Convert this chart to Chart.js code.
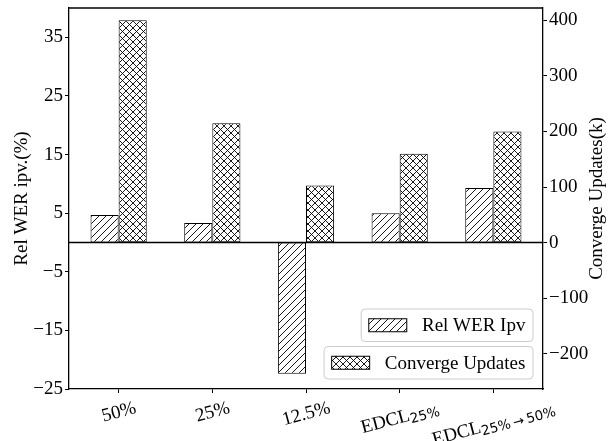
<!DOCTYPE html>
<html>
<head>
<meta charset="utf-8">
<script src="https://cdn.jsdelivr.net/npm/chart.js@4.4.0/dist/chart.umd.min.js"></script>
<style>
  html, body { margin: 0; padding: 0; background: #fff; }
</style>
</head>
<body>
<canvas id="chart" width="612" height="441"></canvas>
<script>
// data
var CATEGORIES = ["50%", "25%", "12.5%", "EDCL25%", "EDCL25%→50%"];
var LABEL_MAIN = ["50%", "25%", "12.5%", "EDCL", "EDCL"];
var LABEL_SUB = ["", "", "", "25%", "25%\u2009→\u200950%"];
var REL_WER_IPV = [4.7, 3.3, -22.4, 5.0, 9.3];
var CONVERGE_UPDATES = [400, 215, 103, 160, 200];
var LEFT_TICKS = [-25, -15, -5, 5, 15, 25, 35];
var RIGHT_TICKS = [-200, -100, 0, 100, 200, 300, 400];

var SERIF = "'Liberation Serif', 'Times New Roman', serif";
var SANS = "'DejaVu Sans', sans-serif";
var FS = 19;
var FS_SUB = 13.5;

var canvas = document.getElementById("chart");
var ctx = canvas.getContext("2d");

function makeHatch(kind) {
  var n = 7;
  var c = document.createElement("canvas");
  c.width = n; c.height = n;
  var g = c.getContext("2d");
  g.fillStyle = "#fff";
  g.fillRect(0, 0, n, n);
  g.strokeStyle = "#000";
  g.lineWidth = 0.9;
  g.beginPath();
  g.moveTo(-1, n + 1); g.lineTo(n + 1, -1);
  g.moveTo(-1, 1); g.lineTo(1, -1);
  g.moveTo(n - 1, n + 1); g.lineTo(n + 1, n - 1);
  if (kind === "x") {
    g.moveTo(-1, -1); g.lineTo(n + 1, n + 1);
    g.moveTo(n - 1, -1); g.lineTo(n + 1, 1);
    g.moveTo(-1, n - 1); g.lineTo(1, n + 1);
  }
  g.stroke();
  return ctx.createPattern(c, "repeat");
}
var hatchSlash = makeHatch("/");
var hatchCross = makeHatch("x");

function minus(v) { return String(v).replace("-", "\u2212"); }

function roundRect(c, x, y, w, h, r) {
  c.beginPath();
  c.moveTo(x + r, y);
  c.arcTo(x + w, y, x + w, y + h, r);
  c.arcTo(x + w, y + h, x, y + h, r);
  c.arcTo(x, y + h, x, y, r);
  c.arcTo(x, y, x + w, y, r);
  c.closePath();
}

var extras = {
  id: "extras",
  afterDatasetsDraw: function(chart) {
    var c = chart.ctx, a = chart.chartArea;
    var y0 = chart.scales.y.getPixelForValue(0);
    c.save();
    c.strokeStyle = "#000";
    c.lineWidth = 1.5;
    c.beginPath();
    c.moveTo(a.left, y0); c.lineTo(a.right, y0);
    c.stroke();
    c.restore();
  },
  afterDraw: function(chart) {
    var c = chart.ctx, a = chart.chartArea;
    c.save();
    // top spine
    c.strokeStyle = "#000";
    c.lineWidth = 1.3;
    c.beginPath();
    c.moveTo(a.left, a.top); c.lineTo(a.right, a.top);
    c.stroke();

    // right axis title, reads bottom to top
    c.fillStyle = "#000";
    c.font = FS + "px " + SERIF;
    c.textAlign = "center";
    c.textBaseline = "middle";
    c.save();
    c.translate(597, (a.top + a.bottom) / 2);
    c.rotate(-Math.PI / 2);
    c.fillText("Converge Updates(k)", 0, 0);
    c.restore();

    // rotated x labels with subscripts
    var th = 15 * Math.PI / 180;
    var top = a.bottom + 7.5;
    var xs = chart.scales.x;
    c.textAlign = "left";
    c.textBaseline = "alphabetic";
    for (var i = 0; i < CATEGORIES.length; i++) {
      c.font = FS + "px " + SERIF;
      var wMain = c.measureText(LABEL_MAIN[i]).width;
      c.font = FS_SUB + "px " + SANS;
      var wSub = LABEL_SUB[i] ? c.measureText(LABEL_SUB[i]).width : 0;
      var W = wMain + wSub, H = FS * 1.1;
      var cx = xs.getPixelForValue(i);
      var cy = top + (W * Math.sin(th) + H * Math.cos(th)) / 2;
      c.save();
      c.translate(cx, cy);
      c.rotate(-th);
      var base = 0.33 * FS;
      c.font = FS + "px " + SERIF;
      c.fillText(LABEL_MAIN[i], -W / 2, base);
      if (wSub) {
        c.font = FS_SUB + "px " + SANS;
        c.fillText(LABEL_SUB[i], -W / 2 + wMain, base + 3);
      }
      c.restore();
    }

    // two legends, one per axis
    var ds = chart.data.datasets;
    var pats = [hatchSlash, hatchCross];
    var right = a.right - 10;
    var bottoms = [a.bottom - 47.5, a.bottom - 10];
    var pad = 7.6, hl = 38, hp = 15.2, bh = 32.5;
    for (var k = 0; k < 2; k++) {
      c.font = FS + "px " + SERIF;
      var tw = c.measureText(ds[k].label).width;
      var bw = pad + hl + hp + tw + pad;
      var bx = right - bw, by = bottoms[k] - bh;
      roundRect(c, bx, by, bw, bh, 4);
      c.fillStyle = "rgba(255,255,255,0.8)";
      c.fill();
      c.strokeStyle = "#cccccc";
      c.lineWidth = 1;
      c.stroke();
      var py = by + bh / 2 - 6.5;
      c.fillStyle = pats[k];
      c.fillRect(bx + pad, py, hl, 13);
      c.strokeStyle = "#000";
      c.strokeRect(bx + pad, py, hl, 13);
      c.fillStyle = "#000";
      c.textBaseline = "middle";
      c.fillText(ds[k].label, bx + pad + hl + hp, by + bh / 2 + 1);
    }
    c.restore();
  }
};

var tickFont = { family: SERIF, size: FS };

new Chart(ctx, {
  type: "bar",
  data: {
    datasets: [
      {
        label: "Rel WER Ipv",
        data: REL_WER_IPV.map(function(v, i) { return { x: i, y: v }; }),
        yAxisID: "y",
        backgroundColor: hatchSlash,
        borderColor: "#000",
        borderWidth: 1,
        borderSkipped: false
      },
      {
        label: "Converge Updates",
        data: CONVERGE_UPDATES.map(function(v, i) { return { x: i, y: v }; }),
        yAxisID: "y1",
        backgroundColor: hatchCross,
        borderColor: "#000",
        borderWidth: 1,
        borderSkipped: false
      }
    ]
  },
  options: {
    responsive: false,
    animation: false,
    categoryPercentage: 0.6,
    barPercentage: 1.0,
    layout: { padding: { top: 8, left: 0, right: 0, bottom: 0 } },
    plugins: { legend: { display: false }, tooltip: { enabled: false } },
    scales: {
      x: {
        type: "linear",
        offset: false,
        min: -0.53,
        max: 4.53,
        afterBuildTicks: function(s) { s.ticks = CATEGORIES.map(function(_, i) { return { value: i }; }); },
        afterFit: function(s) { s.height = 52; s.paddingLeft = 0; s.paddingRight = 0; },
        ticks: { display: false },
        grid: { offset: false, drawOnChartArea: false, drawTicks: true, tickLength: 4, color: "#000", lineWidth: 1 },
        border: { display: true, color: "#000", width: 1.3 }
      },
      y: {
        position: "left",
        min: -25,
        max: 40,
        afterBuildTicks: function(s) { s.ticks = LEFT_TICKS.map(function(v) { return { value: v }; }); },
        afterFit: function(s) { s.width = 69; s.paddingTop = 0; s.paddingBottom = 0; },
        ticks: { font: tickFont, color: "#000", padding: 2, callback: minus },
        grid: { drawOnChartArea: false, drawTicks: true, tickLength: 4, color: "#000", lineWidth: 1 },
        border: { display: true, color: "#000", width: 1.3 },
        title: { display: true, text: "Rel WER ipv.(%)", font: tickFont, color: "#000", padding: { top: 11, bottom: 0 } }
      },
      y1: {
        position: "right",
        min: -263,
        max: 422,
        afterBuildTicks: function(s) { s.ticks = RIGHT_TICKS.map(function(v) { return { value: v }; }); },
        afterFit: function(s) { s.width = 69; s.paddingTop = 0; s.paddingBottom = 0; },
        ticks: { font: tickFont, color: "#000", padding: 2, callback: minus },
        grid: { drawOnChartArea: false, drawTicks: true, tickLength: 4, color: "#000", lineWidth: 1 },
        border: { display: true, color: "#000", width: 1.3 }
      }
    }
  },
  plugins: [extras]
});
</script>
</body>
</html>
